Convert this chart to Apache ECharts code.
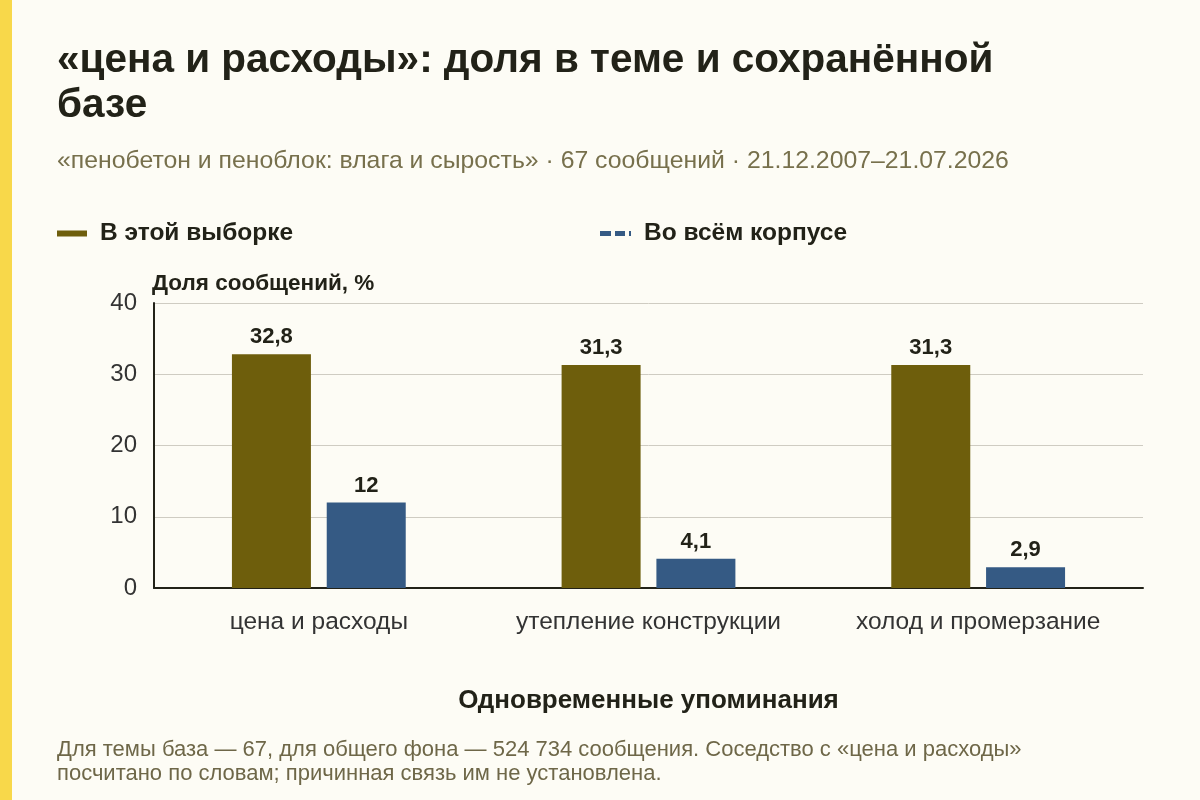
<!DOCTYPE html>
<html>
<head>
<meta charset="utf-8">
<script src="https://cdn.jsdelivr.net/npm/echarts@6/dist/echarts.min.js"></script>
<style>
  html, body { margin: 0; padding: 0; background: #fdfcf5; }
  #chart { width: 1200px; height: 800px; }
</style>
</head>
<body>
<div id="chart"></div>
<script>
// Categories and values
const categories = ["цена и расходы", "утепление конструкции", "холод и промерзание"];
const sampleShare = [32.8, 31.3, 31.3];
const corpusShare = [12, 4.1, 2.9];
const yTicks = [0, 10, 20, 30, 40];

const seriesNames = ["В этой выборке", "Во всём корпусе"];
const colors = ["#6e5e0c", "#355a84"];
const font = "Liberation Sans, Arial, sans-serif";

// Numbers with a comma as decimal mark
function fmt(v) {
  return String(v).replace(".", ",");
}

const chart = echarts.init(document.getElementById("chart"));

const legendText = { fontSize: 24.5, fontWeight: "bold", color: "#222218", padding: [0, 0, 0, 8] };

const valueLabel = {
  show: true,
  position: "top",
  distance: 6,
  fontSize: 22,
  fontWeight: "bold",
  color: "#222218",
  formatter: (p) => fmt(p.value),
};

const option = {
  backgroundColor: "#fdfcf5",
  animation: false,
  textStyle: { fontFamily: font },
  title: [
    {
      text: "«цена и расходы»: доля в теме и сохранённой\nбазе",
      left: 57,
      top: 38,
      padding: 0,
      textStyle: { fontSize: 40.5, fontWeight: "bold", color: "#222218", lineHeight: 45, fontFamily: font },
    },
    {
      text: "«пенобетон и пеноблок: влага и сырость» · 67 сообщений · 21.12.2007–21.07.2026",
      left: 57,
      top: 149,
      padding: 0,
      textStyle: { fontSize: 24.8, fontWeight: "normal", color: "#77704c", fontFamily: font },
    },
    {
      text: "Для темы база — 67, для общего фона — 524 734 сообщения. Соседство с «цена и расходы»\nпосчитано по словам; причинная связь им не установлена.",
      left: 57,
      top: 738,
      padding: 0,
      textStyle: { fontSize: 22, fontWeight: "normal", color: "#6e6748", lineHeight: 24, fontFamily: font },
    },
  ],
  legend: [
    {
      left: 57,
      top: 221,
      padding: 0,
      itemWidth: 30,
      itemHeight: 6,
      textStyle: legendText,
      data: [{ name: seriesNames[0], icon: "rect" }],
    },
    {
      left: 600,
      top: 221,
      padding: 0,
      itemWidth: 31,
      itemHeight: 5,
      textStyle: legendText,
      data: [{ name: seriesNames[1], icon: "path://M0,0h11v5h-11z M15,0h10v5h-10z M29,0h2v5h-2z" }],
    },
  ],
  grid: { left: 154, right: 57, top: 303, bottom: 212 },
  xAxis: {
    type: "category",
    data: categories,
    name: "Одновременные упоминания",
    nameLocation: "middle",
    nameGap: 100,
    nameTextStyle: { fontSize: 26, fontWeight: "bold", color: "#222218" },
    axisLine: { lineStyle: { color: "#222218", width: 2 } },
    axisTick: { alignWithLabel: true, length: 6, lineStyle: { color: "#222218" } },
    axisLabel: { interval: 0, fontSize: 24.5, color: "#333", margin: 22 },
  },
  yAxis: {
    type: "value",
    min: yTicks[0],
    max: yTicks[yTicks.length - 1],
    interval: 10,
    name: "Доля сообщений, %",
    nameLocation: "end",
    nameGap: 8,
    nameTextStyle: { fontSize: 22.5, fontWeight: "bold", color: "#222218", align: "left", padding: [0, 0, 0, -2] },
    axisLine: { show: true, lineStyle: { color: "#222218", width: 2 } },
    axisTick: { show: false },
    axisLabel: { fontSize: 24, color: "#333", margin: 17 },
    splitLine: { lineStyle: { color: "#cfccc2", width: 1 } },
  },
  series: [
    {
      name: seriesNames[0],
      type: "bar",
      data: sampleShare,
      barWidth: 79,
      barGap: "20%",
      itemStyle: { color: colors[0] },
      label: valueLabel,
    },
    {
      name: seriesNames[1],
      type: "bar",
      data: corpusShare,
      barWidth: 79,
      itemStyle: { color: colors[1] },
      label: valueLabel,
    },
  ],
  // yellow stripe on the left edge
  graphic: [
    { type: "rect", left: 0, top: 0, shape: { width: 12, height: 800 }, style: { fill: "#f8d84a" } },
  ],
};

chart.setOption(option);
</script>
</body>
</html>
